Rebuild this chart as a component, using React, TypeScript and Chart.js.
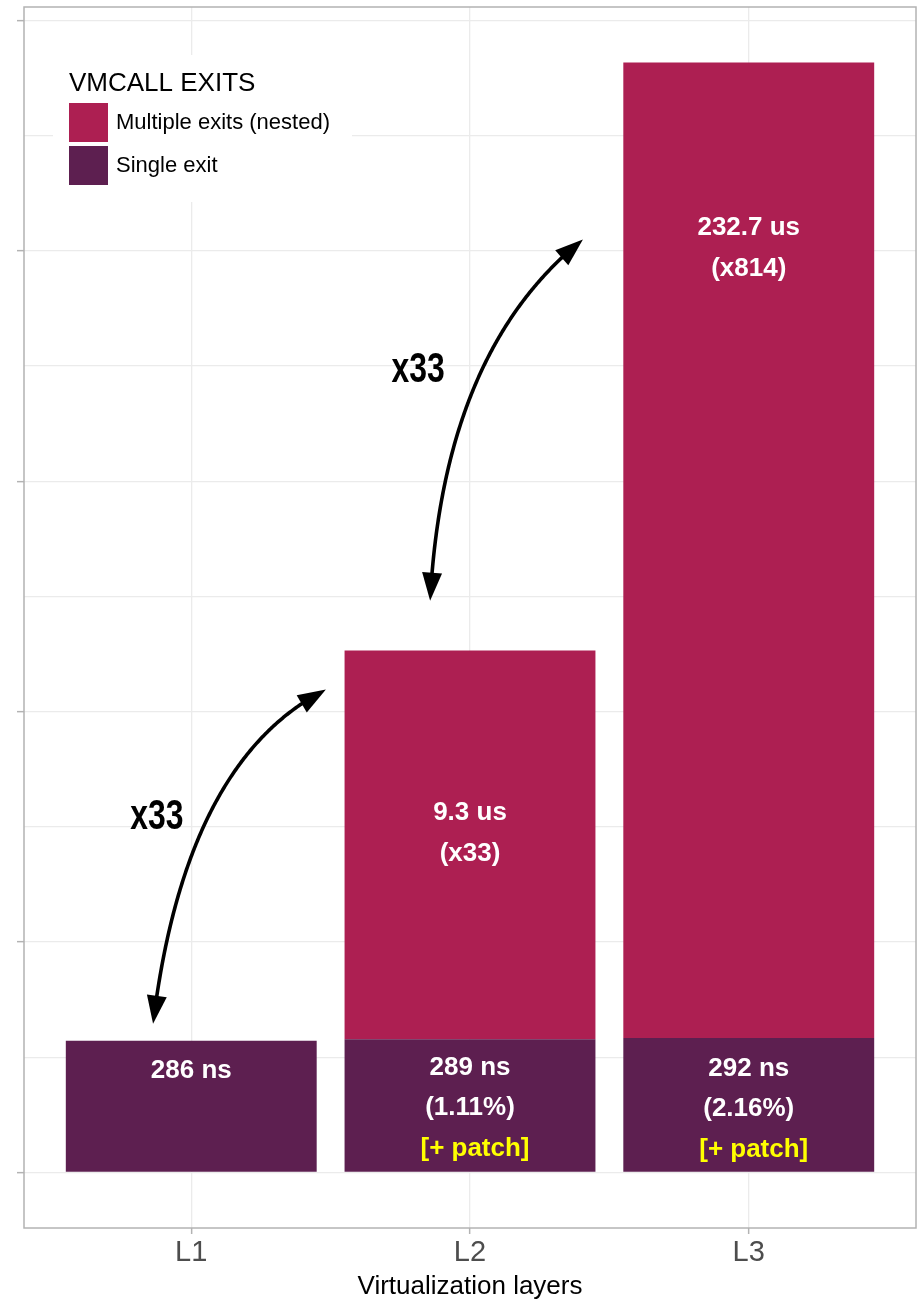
import { useEffect, useRef } from 'react';
import { Chart, registerables } from 'chart.js';

Chart.register(...registerables);

// --- data (y axis carries no labels: 0.5 units per major grid line) ---
const layers = ['L1', 'L2', 'L3'];
const seriesNames = ['Single exit', 'Multiple exits (nested)'];
const singleExit = [0.286, 0.289, 0.292];
const multipleExits = [null, 0.844, 2.117];
const singleText = [['286 ns'], ['289 ns', '(1.11%)'], ['292 ns', '(2.16%)']];
const singleNote = ['', '[+ patch]', '[+ patch]'];
const singleTextY = [0.221, 0.228, 0.226];
const multipleText = [[], ['9.3 us', '(x33)'], ['232.7 us', '(x814)']];
const multipleTextY = [0, 0.781, 2.051];
const yGrid = [0, 0.25, 0.5, 0.75, 1, 1.25, 1.5, 1.75, 2, 2.25, 2.5];
const yMajor = [0, 0.5, 1, 1.5, 2, 2.5];

// curved arrows between bars (data coordinates)
const arrowFrom = [[-0.137, 0.323], [0.857, 1.241]];
const arrowBend = [[-0.022, 0.894], [0.905, 1.784]];
const arrowTo = [[0.483, 1.048], [1.405, 2.025]];
const arrowLabel = ['x33', 'x33'];
const arrowLabelAt = [[-0.123, 0.77], [0.814, 1.74]];

const legendTitle = 'VMCALL EXITS';

const COLORS = ['#5d1f50', '#ad1f52'];
const FONT = '"Liberation Sans", Arial, Helvetica, sans-serif';

const totals = singleExit.map((v, i) => v + (multipleExits[i] ?? 0));
const yTop = Math.max(...totals);

const barLabels = {
  id: 'barLabels',
  afterDatasetsDraw(chart: any) {
    const { ctx, scales } = chart;
    const { x, y } = scales;
    ctx.save();
    ctx.font = `bold 26px ${FONT}`;
    ctx.textAlign = 'center';
    ctx.textBaseline = 'middle';
    layers.forEach((_, i) => {
      const cx = x.getPixelForValue(i);
      let py = y.getPixelForValue(singleTextY[i]);
      ctx.fillStyle = '#ffffff';
      singleText[i].forEach((line) => {
        ctx.fillText(line, cx, py);
        py += 40.5;
      });
      if (singleNote[i]) {
        ctx.fillStyle = '#ffff00';
        ctx.fillText(singleNote[i], cx + 5, py);
      }
      py = y.getPixelForValue(multipleTextY[i]);
      ctx.fillStyle = '#ffffff';
      multipleText[i].forEach((line) => {
        ctx.fillText(line, cx, py);
        py += 41;
      });
    });
    ctx.restore();
  },
};

const arrows = {
  id: 'arrows',
  afterDatasetsDraw(chart: any) {
    const { ctx, scales } = chart;
    const { x, y } = scales;
    const head = 28;
    const half = 10;
    ctx.save();
    ctx.strokeStyle = '#000';
    ctx.fillStyle = '#000';
    ctx.lineWidth = 3.6;
    arrowFrom.forEach((from, k) => {
      const p0 = { x: x.getPixelForValue(from[0]), y: y.getPixelForValue(from[1]) };
      const p1 = { x: x.getPixelForValue(arrowBend[k][0]), y: y.getPixelForValue(arrowBend[k][1]) };
      const p2 = { x: x.getPixelForValue(arrowTo[k][0]), y: y.getPixelForValue(arrowTo[k][1]) };
      const pts: { x: number; y: number; d: number }[] = [];
      let d = 0;
      for (let s = 0; s <= 200; s++) {
        const t = s / 200;
        const px = (1 - t) * (1 - t) * p0.x + 2 * (1 - t) * t * p1.x + t * t * p2.x;
        const py = (1 - t) * (1 - t) * p0.y + 2 * (1 - t) * t * p1.y + t * t * p2.y;
        if (pts.length) d += Math.hypot(px - pts[pts.length - 1].x, py - pts[pts.length - 1].y);
        pts.push({ x: px, y: py, d });
      }
      const total = d;
      ctx.beginPath();
      let started = false;
      pts.forEach((p) => {
        if (p.d < head * 0.7 || p.d > total - head * 0.7) return;
        if (!started) {
          ctx.moveTo(p.x, p.y);
          started = true;
        } else ctx.lineTo(p.x, p.y);
      });
      ctx.stroke();
      const drawHead = (tip: any, back: any) => {
        const ang = Math.atan2(tip.y - back.y, tip.x - back.x);
        const bx = tip.x - head * Math.cos(ang);
        const by = tip.y - head * Math.sin(ang);
        ctx.beginPath();
        ctx.moveTo(tip.x, tip.y);
        ctx.lineTo(bx + half * Math.sin(ang), by - half * Math.cos(ang));
        ctx.lineTo(bx - half * Math.sin(ang), by + half * Math.cos(ang));
        ctx.closePath();
        ctx.fill();
      };
      const startBack = pts.find((p) => p.d >= head) || pts[1];
      const endBack = [...pts].reverse().find((p) => p.d <= total - head) || pts[pts.length - 2];
      drawHead(pts[0], startBack);
      drawHead(pts[pts.length - 1], endBack);
    });
    // condensed bold label: squeeze a bold sans horizontally
    ctx.font = `bold 42px ${FONT}`;
    ctx.textAlign = 'center';
    ctx.textBaseline = 'middle';
    arrowLabel.forEach((txt, k) => {
      const lx = x.getPixelForValue(arrowLabelAt[k][0]);
      const ly = y.getPixelForValue(arrowLabelAt[k][1]);
      ctx.save();
      ctx.translate(lx, ly);
      ctx.scale(0.76, 1);
      ctx.fillText(txt, 0, 0);
      ctx.restore();
    });
    ctx.restore();
  },
};

const insetLegend = {
  id: 'insetLegend',
  afterDatasetsDraw(chart: any) {
    const { ctx, chartArea } = chart;
    const left = chartArea.left;
    const top = chartArea.top;
    ctx.save();
    ctx.fillStyle = '#ffffff';
    ctx.fillRect(left + 29, top + 48, 299, 147);
    ctx.fillStyle = '#000000';
    ctx.font = `26px ${FONT}`;
    ctx.textAlign = 'left';
    ctx.textBaseline = 'alphabetic';
    ctx.fillText(legendTitle, left + 45, top + 84);
    ctx.font = `22px ${FONT}`;
    ctx.textBaseline = 'middle';
    // legend lists the upper segment first
    [1, 0].forEach((si, row) => {
      const ky = top + 96 + row * 43;
      ctx.fillStyle = COLORS[si];
      ctx.fillRect(left + 45, ky, 39, 39);
      ctx.fillStyle = '#000000';
      ctx.fillText(seriesNames[si], left + 92, ky + 20);
    });
    ctx.restore();
  },
};

const panelBorder = {
  id: 'panelBorder',
  afterDatasetsDraw(chart: any) {
    const { ctx, chartArea } = chart;
    ctx.save();
    ctx.strokeStyle = '#b3b3b3';
    ctx.lineWidth = 1.5;
    ctx.strokeRect(chartArea.left, chartArea.top, chartArea.right - chartArea.left, chartArea.bottom - chartArea.top);
    ctx.restore();
  },
};

export default function App() {
  const canvasRef = useRef<HTMLCanvasElement>(null);
  const chartRef = useRef<Chart | null>(null);

  useEffect(() => {
    document.body.style.margin = '0';
    if (!canvasRef.current) return;
    if (chartRef.current) chartRef.current.destroy();
    Chart.defaults.font.family = FONT;

    chartRef.current = new Chart(canvasRef.current, {
      type: 'bar',
      data: {
        datasets: [
          {
            label: seriesNames[0],
            data: singleExit.map((v, i) => ({ x: i, y: v })),
            backgroundColor: COLORS[0],
            borderWidth: 0,
            categoryPercentage: 1,
            barPercentage: 0.9,
          },
          {
            label: seriesNames[1],
            data: multipleExits.map((v, i) => ({ x: i, y: v })),
            backgroundColor: COLORS[1],
            borderWidth: 0,
            categoryPercentage: 1,
            barPercentage: 0.9,
          },
        ],
      },
      options: {
        animation: false,
        responsive: true,
        maintainAspectRatio: false,
        layout: { padding: { left: 17, right: 3, top: 7, bottom: 0 } },
        plugins: {
          legend: { display: false },
          tooltip: { enabled: false },
        },
        scales: {
          x: {
            type: 'linear',
            min: -0.6,
            max: 2.6,
            bounds: 'data',
            offset: false,
            stacked: true,
            afterBuildTicks: (s: any) => {
              s.ticks = layers.map((_, i) => ({ value: i }));
            },
            ticks: {
              callback: (v: any) => layers[v] ?? '',
              font: { size: 29, lineHeight: 1 },
              color: '#4d4d4d',
              padding: 4,
              maxRotation: 0,
              autoSkip: false,
            },
            grid: {
              offset: false,
              color: '#ebebeb',
              lineWidth: 1.3,
              tickLength: 6,
              tickColor: '#b3b3b3',
              tickWidth: 1.5,
            },
            border: { display: false },
            title: {
              display: true,
              text: 'Virtualization layers',
              color: '#000000',
              font: { size: 26, lineHeight: 1 },
              padding: { top: 3, bottom: 0 },
            },
          },
          y: {
            min: -0.05 * yTop,
            max: 1.05 * yTop,
            bounds: 'data',
            stacked: true,
            afterBuildTicks: (s: any) => {
              s.ticks = yGrid.map((v) => ({ value: v }));
            },
            ticks: { display: false },
            grid: {
              color: '#ebebeb',
              lineWidth: 1.3,
              tickLength: 7,
              tickWidth: 1.5,
              tickColor: (c: any) => (yMajor.includes(c.tick?.value) ? '#b3b3b3' : 'rgba(0,0,0,0)'),
            },
            border: { display: false },
          },
        },
      },
      plugins: [barLabels, arrows, insetLegend, panelBorder],
    } as any);

    return () => {
      if (chartRef.current) {
        chartRef.current.destroy();
        chartRef.current = null;
      }
    };
  }, []);

  return (
    <div style={{ width: '919px', height: '1300px', position: 'relative' }}>
      <canvas ref={canvasRef}></canvas>
    </div>
  );
}
